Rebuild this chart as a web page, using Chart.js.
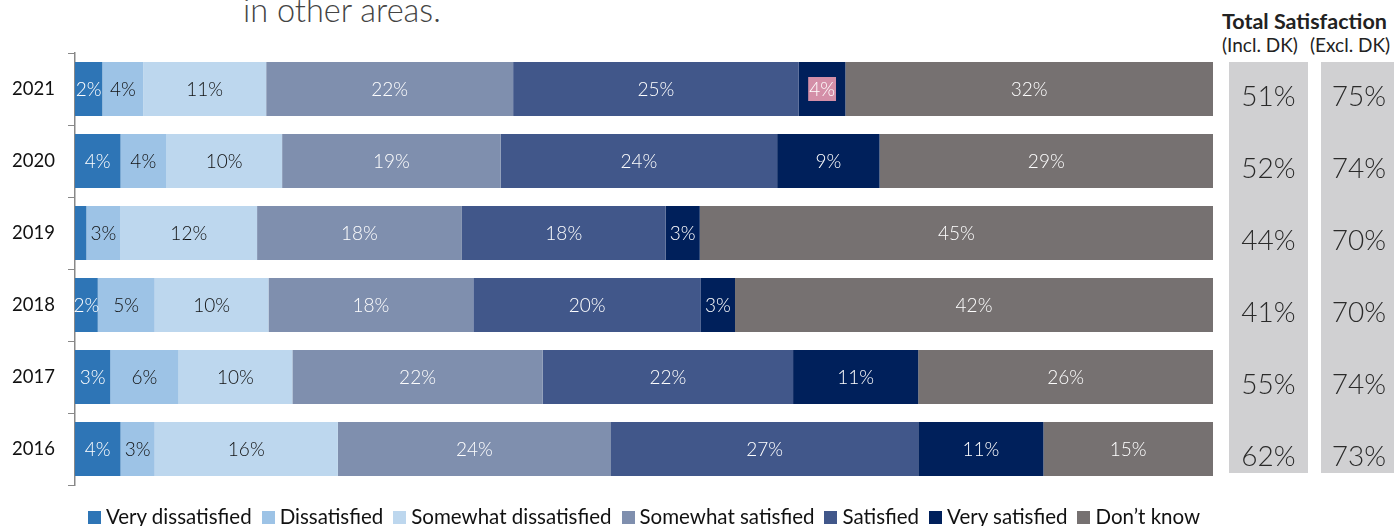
<!DOCTYPE html>
<html>
<head>
<meta charset="utf-8">
<script src="https://cdn.jsdelivr.net/npm/chart.js@4.4.1/dist/chart.umd.min.js"></script>
<style>
  html, body { margin: 0; padding: 0; background: #fff; }
  #wrap { position: relative; width: 1394px; height: 526px; overflow: hidden; }
  #title { position: absolute; left: 243px; top: -10px; font: 300 32.5px Lato, sans-serif; color: #444; white-space: nowrap; }
  #hdr { position: absolute; left: 1222px; top: 8px; font: 700 21.5px Lato, sans-serif; color: #222; white-space: nowrap; }
  .sub { position: absolute; top: 33px; font: 400 19px Lato, sans-serif; color: #222; white-space: nowrap; }
  canvas { position: absolute; left: 0; top: 0; }
  #legend { position: absolute; left: 75px; width: 1138px; top: 503px; display: flex; justify-content: center;
            font: 400 20.5px Lato, sans-serif; color: #111; white-space: nowrap; line-height: 26px; }
  #legend span.item { display: inline-flex; align-items: center; margin: 0 5px; }
  #legend i { display: inline-block; width: 13px; height: 13px; margin-right: 5px; margin-top: 3px; }
</style>
</head>
<body>
<div id="wrap">
  <div id="title">in other areas.</div>
  <div id="hdr">Total Satisfaction</div>
  <div class="sub" style="left:1222px">(Incl. DK)</div>
  <div class="sub" style="left:1310px">(Excl. DK)</div>
  <canvas id="chart" width="1394" height="526"></canvas>
  <div id="legend"></div>
</div>
<script>
const years = ['2021', '2020', '2019', '2018', '2017', '2016'];

const veryDissatisfied     = [2.4, 4.0, 1.0, 2.0, 3.1, 4.0];
const dissatisfied         = [3.6, 4.0, 3.0, 5.0, 6.0, 3.0];
const somewhatDissatisfied = [10.8, 10.2, 12.0, 10.0, 10.0, 16.1];
const somewhatSatisfied    = [21.7, 19.2, 18.0, 18.0, 22.0, 24.0];
const satisfied            = [25.1, 24.3, 17.9, 20.0, 22.0, 27.0];
const verySatisfied        = [4.1, 9.0, 3.0, 3.0, 11.0, 11.0];
const dontKnow             = [32.3, 29.3, 45.1, 42.0, 25.9, 14.9];

const totalInclDK = [51, 52, 44, 41, 55, 62];
const totalExclDK = [75, 74, 70, 70, 74, 73];

const series = [
  {label: 'Very dissatisfied', data: veryDissatisfied, color: '#2e75b6', text: '#fff'},
  {label: 'Dissatisfied', data: dissatisfied, color: '#9dc3e6', text: '#111'},
  {label: 'Somewhat dissatisfied', data: somewhatDissatisfied, color: '#bdd7ee', text: '#111'},
  {label: 'Somewhat satisfied', data: somewhatSatisfied, color: '#7f8fae', text: '#fff'},
  {label: 'Satisfied', data: satisfied, color: '#41578a', text: '#fff'},
  {label: 'Very satisfied', data: verySatisfied, color: '#00205b', text: '#fff'},
  {label: 'Don\u2019t know', data: dontKnow, color: '#767171', text: '#fff'}
];

// 2021 "very satisfied" label has a pink highlight in the source
const highlight = {dataset: 5, index: 0, color: '#d48fa8'};

const barLabels = {
  id: 'barLabels',
  afterDatasetsDraw(chart) {
    const ctx = chart.ctx;
    ctx.save();
    ctx.font = '300 19px Lato, sans-serif';
    ctx.textAlign = 'center';
    ctx.textBaseline = 'middle';
    chart.data.datasets.forEach((ds, di) => {
      const meta = chart.getDatasetMeta(di);
      meta.data.forEach((bar, i) => {
        const v = ds.data[i];
        if (v < 1.5) return;
        const txt = Math.round(v) + '%';
        const cx = (bar.x + bar.base) / 2;
        if (di === highlight.dataset && i === highlight.index) {
          const w = ctx.measureText(txt).width + 2;
          ctx.fillStyle = highlight.color;
          ctx.fillRect(cx - w / 2, bar.y - 12, w, 24);
        }
        ctx.fillStyle = series[di].text;
        ctx.fillText(txt, cx, bar.y + 1);
      });
    });
    ctx.restore();
  }
};

const totalsPanel = {
  id: 'totalsPanel',
  afterDraw(chart) {
    const ctx = chart.ctx;
    const y = chart.scales.y;
    const top = y.getPixelForValue(0) - 27;
    const bottom = y.getPixelForValue(years.length - 1) + 24;
    const cols = [{x: 1229, w: 79, vals: totalInclDK}, {x: 1321, w: 76, vals: totalExclDK}];
    ctx.save();
    cols.forEach(c => {
      ctx.fillStyle = '#d0d0d2';
      ctx.fillRect(c.x, top, c.w, bottom - top);
      ctx.fillStyle = '#2a2a2a';
      ctx.font = '300 28px Lato, sans-serif';
      ctx.textAlign = 'center';
      ctx.textBaseline = 'middle';
      c.vals.forEach((v, i) => {
        ctx.fillText(v + '%', c.x + c.w / 2, y.getPixelForValue(i) + 8);
      });
    });
    ctx.restore();
  }
};

document.getElementById('legend').innerHTML = series.map(s =>
  `<span class="item"><i style="background:${s.color}"></i>${s.label}</span>`).join('');

new Chart(document.getElementById('chart'), {
  type: 'bar',
  data: {
    labels: years,
    datasets: series.map(s => ({
      label: s.label,
      data: s.data,
      backgroundColor: s.color,
      borderWidth: 0,
      categoryPercentage: 0.75,
      barPercentage: 1
    }))
  },
  options: {
    indexAxis: 'y',
    responsive: false,
    animation: false,
    layout: { padding: { top: 53, right: 181, bottom: 41, left: 0 } },
    plugins: {
      legend: { display: false },
      tooltip: { enabled: false }
    },
    scales: {
      x: { stacked: true, min: 0, max: 100, display: false },
      y: {
        stacked: true,
        afterFit(scale) { scale.width = 75; },
        grid: { drawOnChartArea: false, offset: true, tickLength: 7, color: '#888' },
        border: { color: '#888', width: 1.5 },
        ticks: { color: '#111', padding: 13, font: { family: 'Lato, sans-serif', size: 18.5 } }
      }
    }
  },
  plugins: [barLabels, totalsPanel]
});
</script>
</body>
</html>
